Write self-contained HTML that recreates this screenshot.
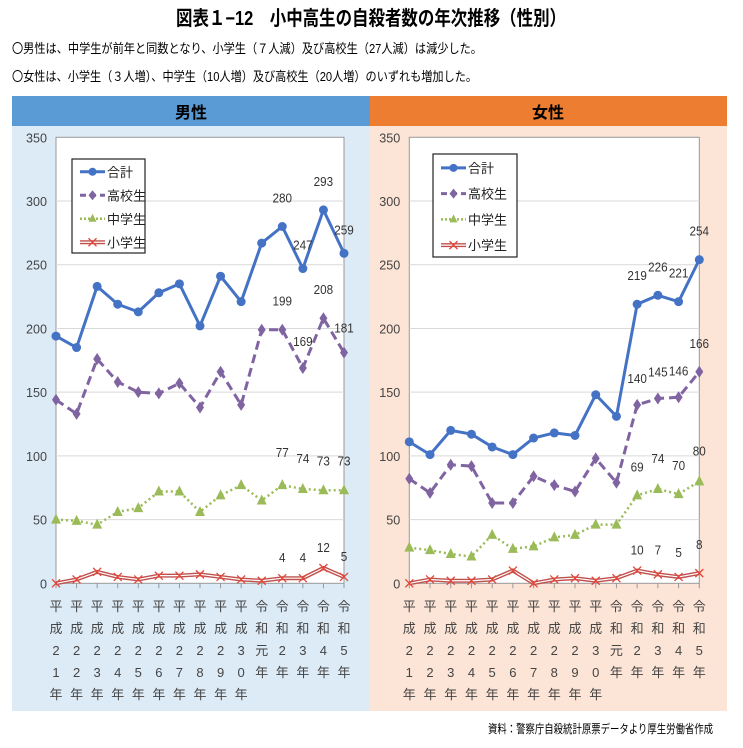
<!DOCTYPE html>
<html><head><meta charset="utf-8"><style>
body{margin:0;width:743px;height:743px;background:#fff;overflow:hidden;font-family:"Liberation Sans","Noto Sans CJK JP",sans-serif;}
svg text{font-family:"Liberation Sans","Noto Sans CJK JP",sans-serif;}
</style></head><body>
<svg id="s" width="743" height="743" xmlns="http://www.w3.org/2000/svg">
<text x="371" y="25" font-size="20" font-weight="bold" text-anchor="middle" textLength="390" lengthAdjust="spacingAndGlyphs">図表１−12　小中高生の自殺者数の年次推移（性別）</text>
<text x="12" y="53" font-size="13" textLength="470" lengthAdjust="spacingAndGlyphs">〇男性は、中学生が前年と同数となり、小学生（７人減）及び高校生（27人減）は減少した。</text>
<text x="12" y="81" font-size="13" textLength="465" lengthAdjust="spacingAndGlyphs">〇女性は、小学生（３人増）、中学生（10人増）及び高校生（20人増）のいずれも増加した。</text>
<rect x="12" y="96" width="358" height="30" fill="#5b9bd5"/>
<rect x="370" y="96" width="357" height="30" fill="#ed7d31"/>
<text x="191" y="118" font-size="16" font-weight="bold" text-anchor="middle">男性</text>
<text x="548" y="118" font-size="16" font-weight="bold" text-anchor="middle">女性</text>
<rect x="12" y="126" width="358" height="585" fill="#ddebf7"/>
<rect x="370" y="126" width="357" height="585" fill="#fce4d6"/>
<text x="713" y="733" font-size="12" text-anchor="end" textLength="225" lengthAdjust="spacingAndGlyphs">資料：警察庁自殺統計原票データより厚生労働省作成</text>
<g id="g"></g>
</svg>
<script>
const NS="http://www.w3.org/2000/svg";const g=document.getElementById('g');
function el(t,a,txt){const e=document.createElementNS(NS,t);for(const k in a)e.setAttribute(k,a[k]);if(txt!==undefined)e.textContent=txt;g.appendChild(e);return e;}
const y0=583.3,ys=446/350;const Y=v=>y0-v*ys;
const labels=["平成21年","平成22年","平成23年","平成24年","平成25年","平成26年","平成27年","平成28年","平成29年","平成30年","令和元年","令和2年","令和3年","令和4年","令和5年"];
function chart(x0,x1,d,lab,lg){
 el('rect',{x:x0,y:Y(350),width:x1-x0,height:Y(0)-Y(350),fill:'#fff',stroke:'#999','stroke-width':1});
 for(let v=50;v<350;v+=50)el('line',{x1:x0,x2:x1,y1:Y(v),y2:Y(v),stroke:'#d9d9d9','stroke-width':1});
 for(let v=0;v<=350;v+=50){const s=String(v);el('text',{x:x0-9,y:Y(v)+5,'font-size':13,'text-anchor':'end',fill:'#444',textLength:s.length*7,lengthAdjust:'spacingAndGlyphs'},s);}
 const dx=(x1-x0)/14,X=i=>x0+i*dx;
 for(let i=0;i<15;i++){el('line',{x1:X(i),x2:X(i),y1:Y(0),y2:Y(0)+5,stroke:'#999'});
  const ch=[...labels[i]];
  ch.forEach((c,j)=>el('text',{x:X(i),y:611+j*22,'font-size':13,'text-anchor':'middle',fill:'#444'},c));}
 const pts=a=>a.map((v,i)=>X(i)+','+Y(v)).join(' ');
 el('polyline',{points:pts(d[3]),fill:'none',stroke:'#c0504d','stroke-width':4});
 el('polyline',{points:pts(d[3]),fill:'none',stroke:'#fff','stroke-width':1.2});
 d[3].forEach((v,i)=>{const x=X(i),y=Y(v);el('path',{d:`M${x-4} ${y-4}L${x+4} ${y+4}M${x-4} ${y+4}L${x+4} ${y-4}`,stroke:'#e0473a','stroke-width':1.3});});
 el('polyline',{points:pts(d[2]),fill:'none',stroke:'#9bbb59','stroke-width':2.5,'stroke-dasharray':'2 3'});
 d[2].forEach((v,i)=>{const x=X(i),y=Y(v);el('path',{d:`M${x} ${y-6}L${x+5} ${y+4}L${x-5} ${y+4}Z`,fill:'#9bbb59'});});
 el('polyline',{points:pts(d[1]),fill:'none',stroke:'#8064a2','stroke-width':3,'stroke-dasharray':'9 5'});
 d[1].forEach((v,i)=>{const x=X(i),y=Y(v);el('path',{d:`M${x} ${y-6}L${x+4} ${y}L${x} ${y+6}L${x-4} ${y}Z`,fill:'#8064a2'});});
 el('polyline',{points:pts(d[0]),fill:'none',stroke:'#4472c4','stroke-width':3});
 d[0].forEach((v,i)=>el('circle',{cx:X(i),cy:Y(v),r:4.5,fill:'#4472c4'}));
 lab.forEach(([i,v,dy])=>{const s=String(v);el('text',{x:X(i),y:Y(v)-dy,'font-size':13,'text-anchor':'middle',fill:'#333',textLength:s.length*6.5,lengthAdjust:'spacingAndGlyphs'},s);});
 const [lx,ly,lw,lh]=lg;
 el('rect',{x:lx,y:ly,width:lw,height:lh,fill:'#fff',stroke:'#222','stroke-width':1.2});
 const items=['合計','高校生','中学生','小学生'];const st=lh/4;
 items.forEach((t,k)=>{const yy=ly+st/2+1+k*st,a=lx+8,b=lx+33,m=(a+b)/2;
  if(k==0){el('line',{x1:a,x2:b,y1:yy,y2:yy,stroke:'#4472c4','stroke-width':3});el('circle',{cx:m,cy:yy,r:4,fill:'#4472c4'});}
  if(k==1){el('line',{x1:a,x2:b,y1:yy,y2:yy,stroke:'#8064a2','stroke-width':3,'stroke-dasharray':'6 4'});el('path',{d:`M${m} ${yy-5}L${m+4} ${yy}L${m} ${yy+5}L${m-4} ${yy}Z`,fill:'#8064a2'});}
  if(k==2){el('line',{x1:a,x2:b,y1:yy,y2:yy,stroke:'#9bbb59','stroke-width':2.5,'stroke-dasharray':'2 2'});el('path',{d:`M${m} ${yy-5}L${m+4} ${yy+3}L${m-4} ${yy+3}Z`,fill:'#9bbb59'});}
  if(k==3){el('line',{x1:a,x2:b,y1:yy,y2:yy,stroke:'#c0504d','stroke-width':4});el('line',{x1:a,x2:b,y1:yy,y2:yy,stroke:'#fff','stroke-width':1.2});el('path',{d:`M${m-4} ${yy-4}L${m+4} ${yy+4}M${m-4} ${yy+4}L${m+4} ${yy-4}`,stroke:'#e0473a','stroke-width':1.3});}
  el('text',{x:lx+35,y:yy+5,'font-size':13,fill:'#222'},t);});
}
const M=[[194,185,233,219,213,228,235,202,241,221,267,280,247,293,259],
[144,133,176,158,150,149,157,138,166,140,199,199,169,208,181],
[50,49,46,56,59,72,72,56,69,77,65,77,74,73,73],
[0,3,9,5,3,6,6,7,5,3,2,4,4,12,5]];
const F=[[111,101,120,117,107,101,114,118,116,148,131,219,226,221,254],
[82,71,93,92,63,63,84,77,72,98,79,140,145,146,166],
[28,26,23,21,38,27,29,36,38,46,46,69,74,70,80],
[0,3,2,2,3,10,0,3,4,2,4,10,7,5,8]];
chart(56,344,M,[[11,280,24],[12,247,19],[13,293,24],[14,259,19],[11,199,24],[12,169,22],[13,208,24],[14,181,20],[11,77,28],[12,74,26],[13,73,25],[14,73,25],[11,4,16],[12,4,16],[13,12,16],[14,5,16]],[72,159,73,94]);
chart(409.3,699.3,F,[[11,219,24],[12,226,24],[13,221,24],[14,254,24],[11,140,22],[12,145,22],[13,146,22],[14,166,24],[11,69,24],[12,74,26],[13,70,24],[14,80,26],[11,10,16],[12,7,20],[13,5,20],[14,8,24]],[433,154,84,103]);
</script>
</body></html>
